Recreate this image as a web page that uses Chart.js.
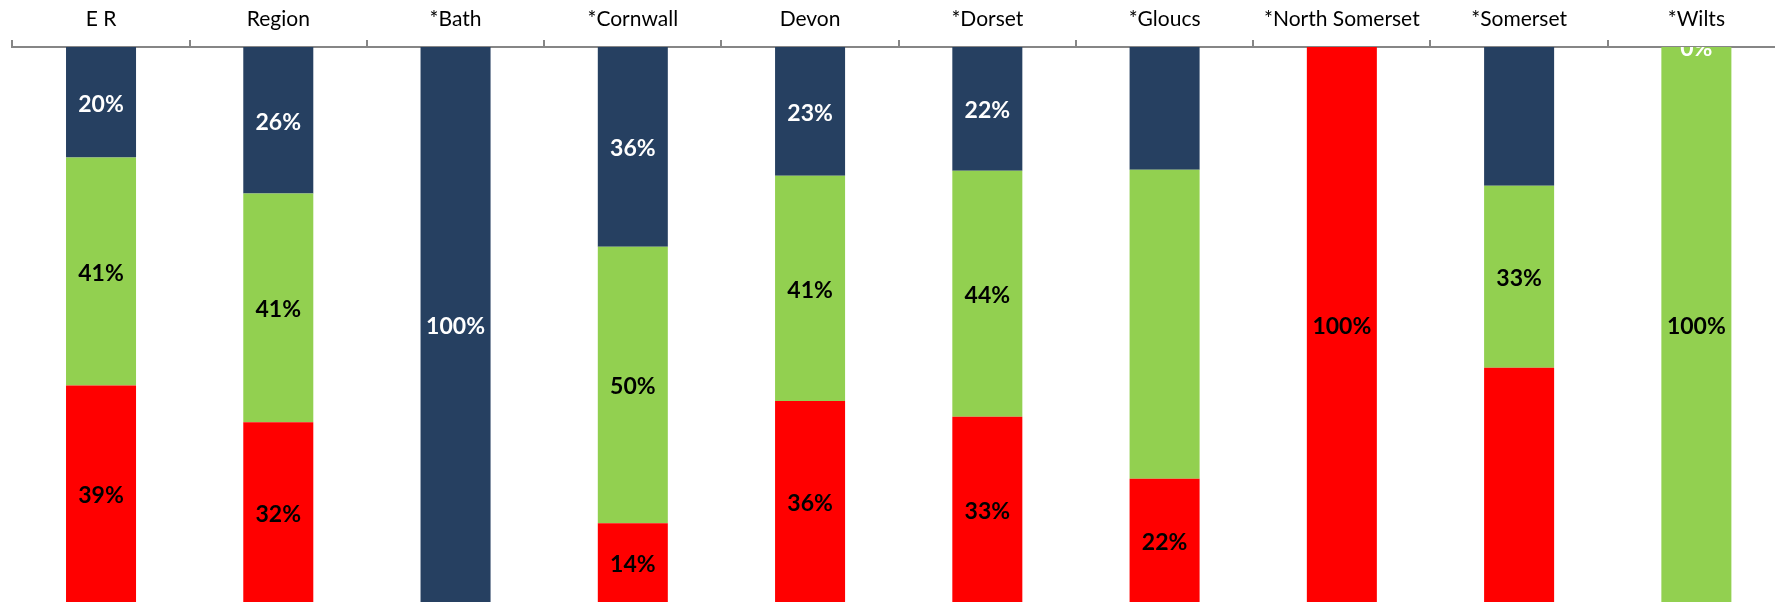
<!DOCTYPE html>
<html>
<head>
<meta charset="utf-8">
<script src="https://cdn.jsdelivr.net/npm/chart.js@4"></script>
<style>
  html, body { margin: 0; padding: 0; background: #fff; overflow: hidden; }
  #wrap { width: 1775px; height: 602px; overflow: hidden; }
</style>
</head>
<body>
<div id="wrap"><canvas id="chart" width="1785" height="602"></canvas></div>
<script>
// categories along the top axis
var areas = ["E R", "Region", "*Bath", "*Cornwall", "Devon", "*Dorset", "*Gloucs", "*North Somerset", "*Somerset", "*Wilts"];

// percentages, bottom to top of each bar
var redVals   = [39.0, 32.4, 0,   14.2, 36.2, 33.4, 22.2, 100, 42.2, 0];
var greenVals = [41.1, 41.2, 0,   49.8, 40.6, 44.3, 55.7, 0,   32.8, 100];
var navyVals  = [19.9, 26.4, 100, 36.0, 23.2, 22.3, 22.1, 0,   25.0, 0];

// which segments carry a printed label
var redShown   = [true, true, false, true, true, true, true, true, false, false];
var greenShown = [true, true, false, true, true, true, false, false, true, true];
var navyShown  = [true, true, true, true, true, true, false, false, false, true];

var segLabels = {
  id: 'segLabels',
  afterDatasetsDraw: function(chart) {
    var c = chart.ctx;
    var area = chart.chartArea;
    c.save();
    c.beginPath();
    c.rect(area.left, area.top, area.right - area.left, area.bottom - area.top);
    c.clip();
    c.font = 'bold 23px Lato';
    c.textAlign = 'center';
    c.textBaseline = 'middle';
    chart.data.datasets.forEach(function(ds, i) {
      var meta = chart.getDatasetMeta(i);
      meta.data.forEach(function(bar, j) {
        if (!ds.shown[j]) return;
        var mid = (bar.y + bar.base) / 2;
        c.fillStyle = ds.labelColor;
        c.fillText(Math.round(ds.data[j]) + '%', bar.x, mid + 2);
      });
    });
    c.restore();
  }
};

var ctx = document.getElementById("chart").getContext("2d");
var myChart = new Chart(ctx, {
  type: 'bar',
  data: {
    labels: areas,
    datasets: [
      { label: 'Red', data: redVals, backgroundColor: '#ff0000', shown: redShown, labelColor: '#000' },
      { label: 'Green', data: greenVals, backgroundColor: '#92d050', shown: greenShown, labelColor: '#000' },
      { label: 'Navy', data: navyVals, backgroundColor: '#264061', shown: navyShown, labelColor: '#fff' }
    ]
  },
  options: {
    responsive: false,
    animation: false,
    categoryPercentage: 1,
    barPercentage: 0.395,
    layout: { padding: { left: 12.4, right: 0, top: -1, bottom: 0 } },
    plugins: { legend: { display: false }, tooltip: { enabled: false } },
    scales: {
      x: {
        position: 'top',
        stacked: true,
        grid: { drawOnChartArea: false, drawTicks: true, tickLength: 7, color: '#868686', lineWidth: 2, offset: true },
        border: { color: '#868686', width: 2 },
        ticks: { color: '#000', padding: 10, font: { family: 'Lato', size: 21, lineHeight: 1 } }
      },
      y: {
        display: false,
        stacked: true,
        min: 0,
        max: 100
      }
    }
  },
  plugins: [segLabels]
});
</script>
</body>
</html>
